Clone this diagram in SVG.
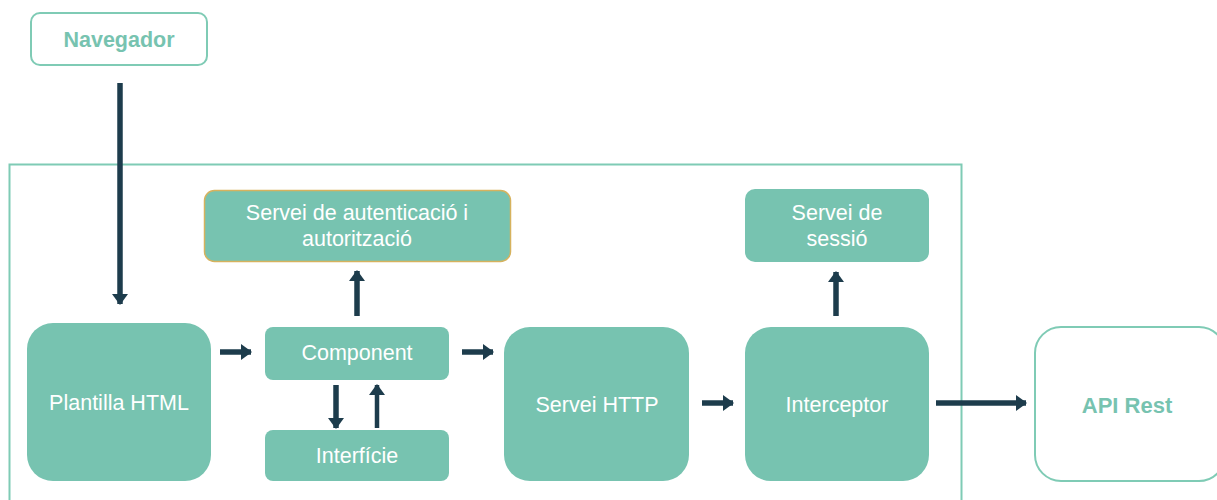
<svg xmlns="http://www.w3.org/2000/svg" width="1217" height="500" viewBox="0 0 1217 500">
<style>
.box{fill:#77c3b0;}
.out{fill:#fff;stroke:#7fcbb5;stroke-width:2;}
.t{font-family:"Liberation Sans",Arial,sans-serif;font-size:21.5px;fill:#fff;text-anchor:middle;dominant-baseline:central;}
.tb{font-family:"Liberation Sans",Arial,sans-serif;font-size:21.5px;font-weight:bold;fill:#77c3b0;text-anchor:middle;dominant-baseline:central;}
.c{stroke:#1d3c4c;stroke-width:5.5;fill:none;marker-end:url(#ah);}
</style>
<defs>
<marker id="ah" viewBox="0 0 11 16" refX="10" refY="8" markerWidth="11" markerHeight="16" markerUnits="userSpaceOnUse" orient="auto">
<path d="M0,0 L11,8 L0,16 z" fill="#1d3c4c"/>
</marker>
</defs>
<rect width="1217" height="500" fill="#fff"/>
<rect id="container" x="9.5" y="164.5" width="952" height="400" fill="none" stroke="#7fcbb5" stroke-width="2"/>
<g id="navegador">
<rect class="out" x="31" y="13" width="176" height="52" rx="9"/>
<text class="tb" x="119" y="40">Navegador</text>
</g>
<g id="auth">
<rect class="box" x="204.5" y="190.5" width="306" height="71" rx="10" stroke="#d6b25e" stroke-width="1.5"/>
<text class="t" x="357" y="213">Servei de autenticació i</text>
<text class="t" x="357" y="239">autorització</text>
</g>
<g id="sessio">
<rect class="box" x="745" y="189" width="184" height="73" rx="10"/>
<text class="t" x="837" y="213">Servei de</text>
<text class="t" x="837" y="239">sessió</text>
</g>
<g id="plantilla">
<rect class="box" x="27" y="323" width="184" height="158" rx="26"/>
<text class="t" x="119" y="403">Plantilla HTML</text>
</g>
<g id="component">
<rect class="box" x="265" y="327" width="184" height="53" rx="8"/>
<text class="t" x="357" y="353">Component</text>
</g>
<g id="interficie">
<rect class="box" x="265" y="430" width="184" height="51" rx="8"/>
<text class="t" x="357" y="456">Interfície</text>
</g>
<g id="http">
<rect class="box" x="504" y="327" width="185" height="154" rx="26"/>
<text class="t" x="597" y="405">Servei HTTP</text>
</g>
<g id="interceptor">
<rect class="box" x="745" y="327" width="184" height="154" rx="26"/>
<text class="t" x="837" y="405">Interceptor</text>
</g>
<g id="api">
<rect class="out" x="1035" y="327" width="190" height="154" rx="26"/>
<text class="tb" x="1127" y="405" style="font-size:22px">API Rest</text>
</g>
<g id="connectors">
<line class="c" x1="120" y1="83" x2="120" y2="304"/>
<line class="c" x1="220" y1="352" x2="251" y2="352"/>
<line class="c" x1="462" y1="352" x2="493" y2="352"/>
<line class="c" x1="357" y1="316" x2="357" y2="271"/>
<line class="c" x1="336" y1="385" x2="336" y2="428"/>
<line class="c" x1="377" y1="428" x2="377" y2="385" style="stroke-width:4.5"/>
<line class="c" x1="702" y1="403" x2="733" y2="403"/>
<line class="c" x1="836" y1="316" x2="836" y2="272"/>
<line class="c" x1="936" y1="403" x2="1026" y2="403"/>
</g>
</svg>
